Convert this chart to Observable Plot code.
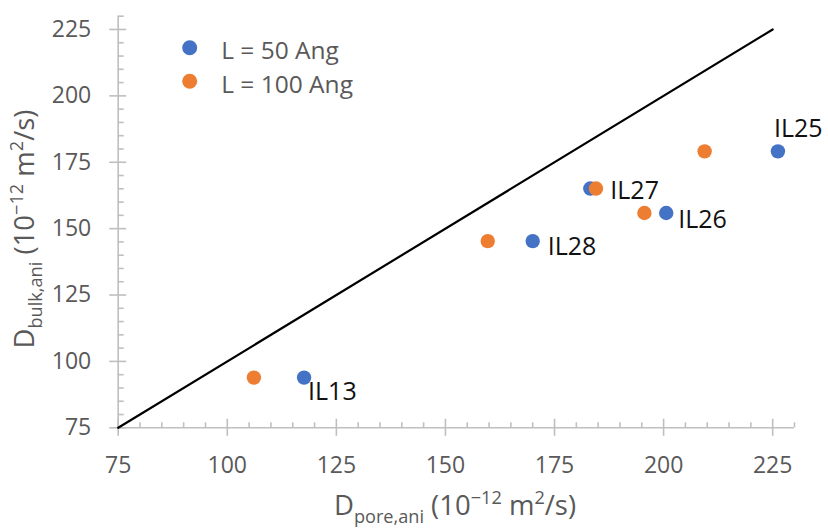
<!DOCTYPE html>
<html>
<head>
<meta charset="utf-8">
<script src="https://cdn.jsdelivr.net/npm/d3@7"></script>
<script src="https://cdn.jsdelivr.net/npm/@observablehq/plot@0.6"></script>
<style>
  html, body { margin: 0; padding: 0; background: #fff; }
</style>
</head>
<body>
<div id="chart"></div>
<script>
// ---- Data ----
const ilNames = ["IL13", "IL28", "IL27", "IL26", "IL25"];
const dBulk = [93.9, 145.3, 165.1, 155.9, 179.1];
const dPore50 = [117.6, 170.0, 183.2, 200.6, 226.2];
const dPore100 = [106.1, 159.7, 184.5, 195.6, 209.4];
const seriesNames = ["L = 50 Ang", "L = 100 Ang"];
const seriesColors = ["#4472C4", "#ED7D31"];
const majorTicks = [75, 100, 125, 150, 175, 200, 225];
const parityLine = [75, 225];

// ---- Styling (label offsets in px) ----
const labelOffsets = {
  IL13: [4, 14], IL28: [15, 6], IL27: [20, 2], IL26: [12, 7], IL25: [-4, -22]
};
const minorTicks = d3.range(75, 231, 5).filter(v => v % 25 !== 0);

const rows = [];
ilNames.forEach((n, i) => rows.push({name: n, series: seriesNames[0], x: dPore50[i], y: dBulk[i]}));
ilNames.forEach((n, i) => rows.push({name: n, series: seriesNames[1], x: dPore100[i], y: dBulk[i]}));
const blueRows = rows.filter(r => r.series === seriesNames[0]);

const axisColor = "#BFBFBF";
const textGrey = "#595959";

const chart = Plot.plot({
  width: 828,
  height: 532,
  marginLeft: 117.7,
  marginRight: 34,
  marginTop: 15.7,
  marginBottom: 104.7,
  x: {domain: [75, 230]},
  y: {domain: [75, 230]},
  color: {domain: seriesNames, range: seriesColors},
  style: {fontFamily: "'Open Sans', sans-serif", background: "#fff", overflow: "visible"},
  marks: [
    // axis lines
    Plot.ruleY([75], {stroke: axisColor, strokeWidth: 1.6}),
    Plot.ruleX([75], {stroke: axisColor, strokeWidth: 1.6}),
    // major ticks (crossing)
    Plot.ruleX(majorTicks, {x: d => d, y1: 75, y2: 75, insetTop: -8.5, insetBottom: -8.5, stroke: axisColor, strokeWidth: 1.6}),
    Plot.ruleY(majorTicks, {y: d => d, x1: 75, x2: 75, insetLeft: -8.5, insetRight: -8.5, stroke: axisColor, strokeWidth: 1.6}),
    // minor ticks (inside)
    Plot.ruleX(minorTicks, {x: d => d, y1: 75, y2: 75, insetTop: -5, insetBottom: 0, stroke: axisColor, strokeWidth: 1.6}),
    Plot.ruleY(minorTicks, {y: d => d, x1: 75, x2: 75, insetLeft: 0, insetRight: -6, stroke: axisColor, strokeWidth: 1.6}),
    // tick labels
    Plot.axisX({ticks: majorTicks, tickSize: 0, tickPadding: 28.5, fontSize: 23, color: textGrey, label: null, tickFormat: d => d}),
    Plot.axisY({ticks: majorTicks, tickSize: 0, tickPadding: 27, fontSize: 23, color: textGrey, label: null, tickFormat: d => d}),
    // parity line
    Plot.line(parityLine, {x: d => d, y: d => d, stroke: "#000", strokeWidth: 2.2}),
    // data points
    Plot.dot(rows, {x: "x", y: "y", fill: "series", r: 7.2}),
    // data labels
    ...blueRows.map(r => Plot.text([r], {
      x: "x", y: "y", text: "name",
      dx: labelOffsets[r.name][0], dy: labelOffsets[r.name][1],
      textAnchor: "start", lineAnchor: "middle",
      fontSize: 25, fill: "#111"
    })),
    // legend
    ...seriesNames.map((s, i) => Plot.dot([s], {
      frameAnchor: "top-left", dx: 71.5, dy: 31.5 + i * 33.5,
      fill: d => d, r: 7.5
    })),
    ...seriesNames.map((s, i) => Plot.text([s], {
      frameAnchor: "top-left", dx: 103, dy: 35 + i * 33.5,
      text: d => d, textAnchor: "start", lineAnchor: "middle",
      fontSize: 24.5, fill: textGrey
    }))
  ]
});

document.getElementById("chart").append(chart);

// ---- Axis titles with sub/superscripts ----
function addTitle(sel, parts, size) {
  const t = sel.append("text")
    .attr("text-anchor", "middle")
    .attr("fill", textGrey)
    .attr("font-size", size)
    .attr("font-family", "'Open Sans', sans-serif");
  let cur = 0;
  parts.forEach(p => {
    const target = p.sub ? size * 0.3 : p.sup ? -size * 0.4 : 0;
    const ts = t.append("tspan").text(p.t).attr("dy", target - cur);
    if (p.sub || p.sup) ts.attr("font-size", size * 0.66);
    cur = target;
  });
  return t;
}
const svg = d3.select(chart);
addTitle(svg.append("g").attr("transform", "translate(455,515)"), [
  {t: "D"}, {t: "pore,ani", sub: true}, {t: " (10"}, {t: "\u221212", sup: true},
  {t: " m"}, {t: "2", sup: true}, {t: "/s)"}
], 27.5);
addTitle(svg.append("g").attr("transform", "translate(34,229) rotate(-90)"), [
  {t: "D"}, {t: "bulk,ani", sub: true}, {t: " (10"}, {t: "\u221212", sup: true},
  {t: " m"}, {t: "2", sup: true}, {t: "/s)"}
], 27.5);
</script>
</body>
</html>
